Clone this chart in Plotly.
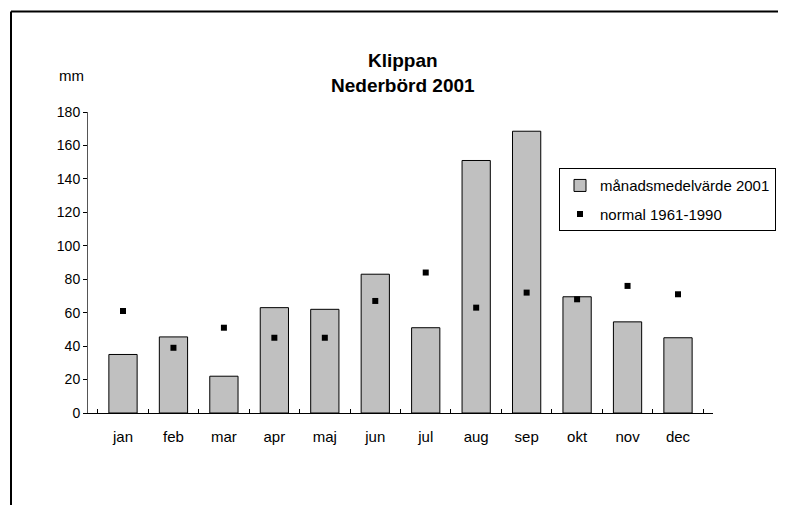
import plotly.graph_objects as go

months = ["jan", "feb", "mar", "apr", "maj", "jun", "jul", "aug", "sep", "okt", "nov", "dec"]
monthly_2001 = [35, 45.5, 22, 63, 62, 83, 51, 151, 168.5, 69.5, 54.5, 45]
normal_1961_1990 = [61, 39, 51, 45, 45, 67, 84, 63, 72, 68, 76, 71]
y_ticks = [0, 20, 40, 60, 80, 100, 120, 140, 160, 180]

FONT = "Liberation Sans, Arial, sans-serif"

W, H = 786, 505
OFF = 8  # page body margin offset
# plot area in reference (window) pixel coordinates
L, T = 88, 111.7
pw, ph = 625, 301.6
B_ref = H - T - ph

def px_x(px):
    return (px - L) / pw

def px_y(py):
    return (H - B_ref - py) / ph

ml, mt = L - OFF, T - OFF
mr, mb = W - ml - pw, H - mt - ph

fig = go.Figure()
fig.add_trace(go.Bar(
    x=months, y=monthly_2001, name="månadsmedelvärde 2001",
    marker=dict(color="#c0c0c0", line=dict(color="#000000", width=1)),
    legendgroup="a",
))
fig.add_trace(go.Scatter(
    x=months, y=normal_1961_1990, name="normal 1961-1990", mode="markers",
    marker=dict(symbol="square", size=6, color="#000000"),
    legendgroup="b",
))

fig.update_layout(
    width=W, height=H,
    margin=dict(l=ml, r=mr, t=mt, b=mb, pad=0),
    paper_bgcolor="white", plot_bgcolor="white",
    font=dict(family=FONT, size=14, color="#000000"),
    bargap=0.44,
    showlegend=True,
    legend=dict(
        x=px_x(559), y=px_y(168), xanchor="left", yanchor="top",
        bordercolor="#000000", borderwidth=1, bgcolor="white",
        font=dict(family=FONT, size=15),
        traceorder="grouped", tracegroupgap=6, itemwidth=30,
    ),
    xaxis=dict(
        type="category", showline=True, linecolor="#000000", linewidth=1,
        ticks="inside", tickson="boundaries", ticklen=4, tickcolor="#000000",
        showgrid=False, zeroline=False, ticklabelstandoff=10,
        tickfont=dict(family=FONT, size=15),
    ),
    yaxis=dict(
        range=[0, 180], tickvals=y_ticks, showline=True, linecolor="#555555",
        linewidth=1, ticks="outside", ticklen=4, tickcolor="#000000",
        showgrid=False, zeroline=False, tickfont=dict(family=FONT, size=14),
    ),
    annotations=[
        dict(text="<b>Klippan<br>Nederbörd 2001</b>", xref="paper", yref="paper",
             x=px_x(403), y=px_y(73), xanchor="center", yanchor="middle",
             showarrow=False, font=dict(family=FONT, size=19)),
        dict(text="mm", xref="paper", yref="paper", x=px_x(71), y=px_y(75),
             xanchor="center", yanchor="middle", showarrow=False,
             font=dict(family=FONT, size=15)),
    ],
    shapes=[
        dict(type="line", xref="paper", yref="paper", x0=px_x(11), x1=px_x(800),
             y0=px_y(11), y1=px_y(11), line=dict(color="#000000", width=2)),
        dict(type="line", xref="paper", yref="paper", x0=px_x(11), x1=px_x(11),
             y0=px_y(11), y1=px_y(520), line=dict(color="#000000", width=2)),
    ],
)

fig.write_html("out.html")
